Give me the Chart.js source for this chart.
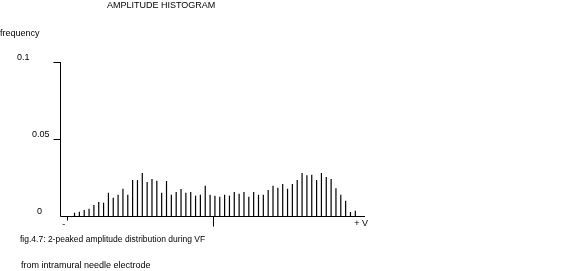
<!doctype html>
<html lang="en">
  <head>
    <meta charset="utf-8">
    <script src="https://cdn.jsdelivr.net/npm/chart.js@4.4.0/dist/chart.umd.min.js"></script>
    <title>Amplitude histogram</title>
    <style>
      html, body { margin: 0; padding: 0; background: #fff; }
      #wrap { width: 578px; height: 271px; }
    </style>
  </head>
  <body>
    <div id="wrap"><canvas id="histo" width="578" height="271"></canvas></div>
  </body>

  <script>

    // amplitude bins (1 = most negative, 59 = most positive)
    let bins = Array.from({length: 59}, (_, i) => i + 1);
    let freq = [
      0.0021, 0.0028, 0.0039, 0.0047, 0.0071, 0.0091, 0.0086, 0.0151, 0.0119, 0.0138,
      0.0177, 0.0138, 0.0233, 0.0233, 0.0279, 0.0220, 0.0240, 0.0229, 0.0151, 0.0227,
      0.0138, 0.0156, 0.0175, 0.0151, 0.0156, 0.0132, 0.0138, 0.0196, 0.0138, 0.0132,
      0.0125, 0.0138, 0.0132, 0.0156, 0.0145, 0.0156, 0.0125, 0.0156, 0.0138, 0.0138,
      0.0169, 0.0196, 0.0183, 0.0207, 0.0177, 0.0207, 0.0233, 0.0279, 0.0264, 0.0268,
      0.0233, 0.0279, 0.0253, 0.0240, 0.0181, 0.0138, 0.0099, 0.0026, 0.0034
    ];
    let yTicks = [0, 0.05, 0.1];
    let yTickLabels = ['0', '0.05', '0.1'];
    let xTicks = [-0.5, 29.5];

    const font = '9px "Liberation Sans", Arial, sans-serif';

    // axes + labels drawn by hand, old plotter style
    const axesPlugin = {
      id: 'axes',
      afterDraw(chart) {
        const c = chart.ctx;
        const xs = chart.scales.x, ys = chart.scales.y;
        const x0 = Math.round(xs.left) + 0.5;
        const y0 = Math.round(ys.getPixelForValue(0)) + 0.5;
        c.save();
        c.strokeStyle = '#000';
        c.fillStyle = '#000';
        c.lineWidth = 1;
        c.beginPath();
        c.moveTo(x0, Math.round(ys.top));
        c.lineTo(x0, y0);
        c.lineTo(Math.round(xs.right), y0);
        yTicks.forEach(v => {
          if (v === 0) return;
          const y = Math.round(ys.getPixelForValue(v)) + 0.5;
          c.moveTo(x0 - 7, y);
          c.lineTo(x0, y);
        });
        xTicks.forEach((v, i) => {
          const x = Math.round(xs.getPixelForValue(v)) + 0.5;
          c.moveTo(x, y0);
          c.lineTo(x, y0 + (i === 0 ? 4 : 10));
        });
        c.stroke();

        c.font = font;
        c.textBaseline = 'middle';
        const labelX = {'0.1': 17, '0.05': 32, '0': 37};
        yTicks.forEach((v, i) => {
          c.fillText(yTickLabels[i], labelX[yTickLabels[i]], ys.getPixelForValue(v) - 4);
        });
        c.fillText('-', xs.getPixelForValue(-0.5) - 5, y0 + 8);
        c.fillText('+ V', xs.getPixelForValue(60) - 6, y0 + 7);

        c.fillText('AMPLITUDE HISTOGRAM', 107, 6);
        c.fillText('frequency', 0, 34);
        c.fillText('from intramural needle electrode', 21, 266);
        c.font = '8.5px "Liberation Sans", Arial, sans-serif';
        c.fillText('fig.4.7: 2-peaked amplitude distribution during VF', 20, 240);
        c.restore();
      }
    };

    let canvas = document.getElementById('histo').getContext('2d');

    var chart = new Chart(canvas, {
      type: 'bar',
      data: {
        datasets: [{
          data: bins.map((b, i) => ({x: b, y: freq[i]})),
          backgroundColor: '#000',
          borderWidth: 0,
          inflateAmount: 0,
          barThickness: 1.2
        }]
      },
      options: {
        responsive: false,
        animation: false,
        devicePixelRatio: 1,
        layout: { padding: { left: 60, right: 213, top: 62, bottom: 55 } },
        plugins: { legend: { display: false }, tooltip: { enabled: false } },
        scales: {
          x: { type: 'linear', min: -2, max: 61, offset: false, display: false },
          y: { min: 0, max: 0.1, display: false }
        }
      },
      plugins: [axesPlugin]
    });

  </script>

</html>
